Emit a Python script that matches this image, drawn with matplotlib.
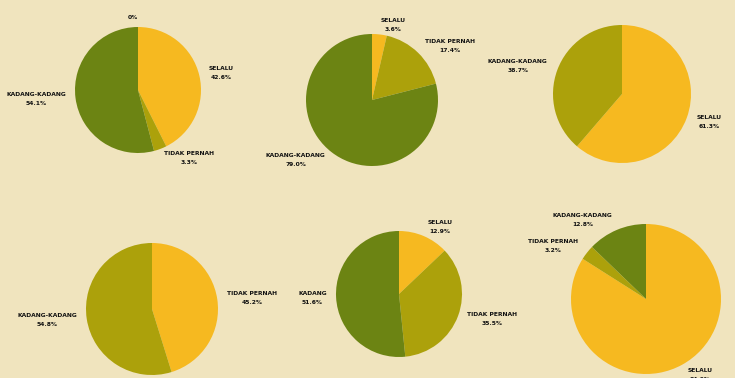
import matplotlib.pyplot as plt

# data, one list per pie (clockwise from 12 o'clock)
names_1 = ['', 'SELALU', 'TIDAK PERNAH', 'KADANG-KADANG']
values_1 = [0, 42.6, 3.3, 54.1]

names_2 = ['SELALU', 'TIDAK PERNAH', 'KADANG-KADANG']
values_2 = [3.6, 17.4, 79.0]

names_3 = ['SELALU', 'KADANG-KADANG']
values_3 = [61.3, 38.7]

names_4 = ['TIDAK PERNAH', 'KADANG-KADANG']
values_4 = [45.2, 54.8]

names_5 = ['SELALU', 'TIDAK PERNAH', 'KADANG']
values_5 = [12.9, 35.5, 51.6]

names_6 = ['SELALU', 'TIDAK PERNAH', 'KADANG-KADANG']
values_6 = [84.0, 3.2, 12.8]

bg = '#F0E4BE'
palette = ['#F6B920', '#ACA10B', '#6C8413']

W, H = 735, 378
fig = plt.figure(figsize=(W / 100, H / 100), dpi=100)
fig.patch.set_facecolor(bg)

# (center x, center y, radius) in pixels, y from top
placement = [
    (138, 90, 63),
    (372, 100, 66),
    (622, 94, 69),
    (152, 309, 66),
    (399, 294, 63),
    (646, 299, 75),
]

pies = [(names_1, values_1), (names_2, values_2), (names_3, values_3),
        (names_4, values_4), (names_5, values_5), (names_6, values_6)]


def pct_text(v):
    if v == 0:
        return '0%'
    return f'{v:.1f}%'


for (names, values), (cx, cy, r) in zip(pies, placement):
    ax = fig.add_axes([(cx - r) / W, 1 - (cy + r) / H, 2 * r / W, 2 * r / H])
    cols = []
    k = 0
    for v in values:
        if v > 0:
            cols.append(palette[k % len(palette)])
            k += 1
        else:
            cols.append(palette[0])
    labels = [(n + '\n' + pct_text(v)).strip('\n') for n, v in zip(names, values)]
    wedges, texts = ax.pie(values, labels=labels, colors=cols, startangle=90,
                           counterclock=False, radius=1, labeldistance=1.15,
                           wedgeprops=dict(linewidth=0),
                           textprops=dict(fontsize=4.3, fontweight='bold',
                                          color='#111111', linespacing=2.0,
                                          multialignment='center'))
    for t in texts:
        t.set_clip_on(False)
    ax.set_xlim(-1, 1)
    ax.set_ylim(-1, 1)
    ax.set_axis_off()

plt.savefig('out.png', dpi=100, facecolor=bg)
